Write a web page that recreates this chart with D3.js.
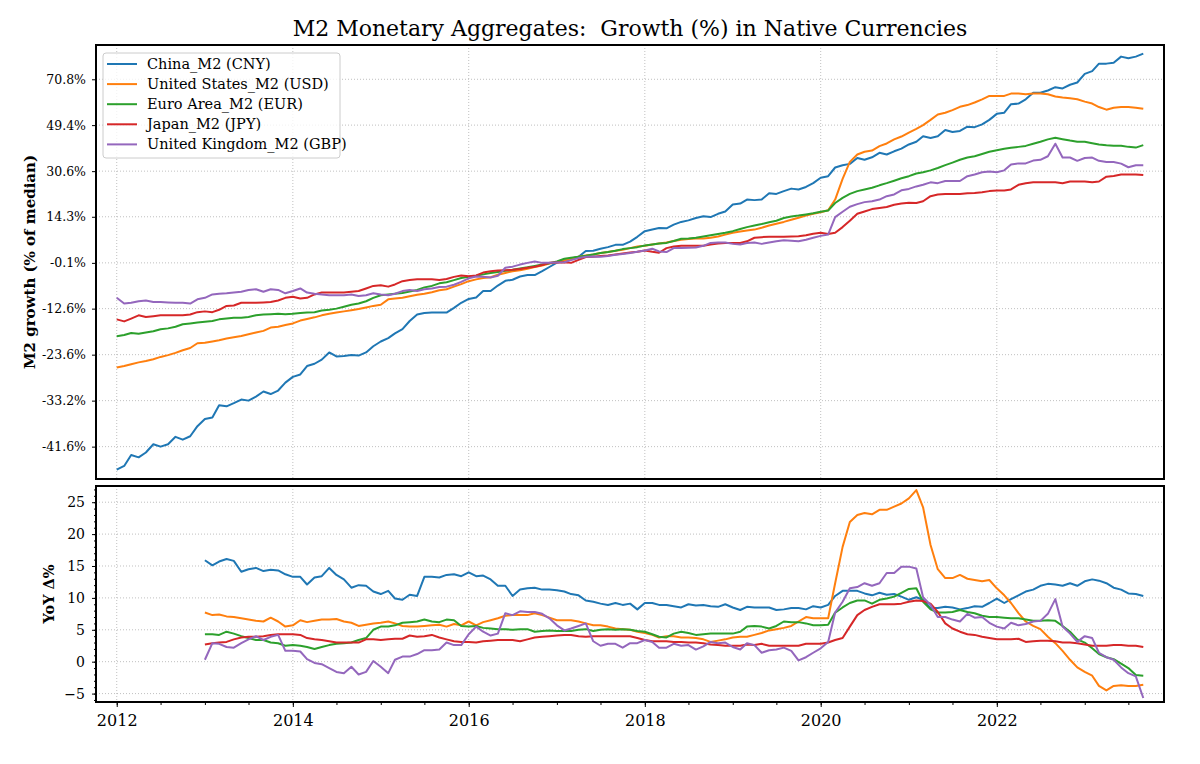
<!DOCTYPE html>
<html><head><meta charset="utf-8">
<script src="https://cdn.jsdelivr.net/npm/d3@7"></script>
<style>body{margin:0;background:#fff}svg{display:block}text{font-family:"DejaVu Serif",serif}</style>
</head><body><svg id="c" width="1200" height="764"></svg>
<script>
// ---------- DATA ----------
const seriesNames = ["China_M2 (CNY)","United States_M2 (USD)","Euro Area_M2 (EUR)","Japan_M2 (JPY)","United Kingdom_M2 (GBP)"];
const seriesColors = ["#1f77b4","#ff7f0e","#2ca02c","#d62728","#9467bd"];
// monthly, Jan 2012 .. Sep 2023 : M2 level, % of median
const chinaLevel = [-45.4,-44.8,-43.0,-43.4,-42.6,-41.2,-41.6,-41.2,-39.9,-40.4,-39.8,-38.0,
-36.7,-36.4,-34.1,-34.3,-33.7,-33.0,-33.2,-32.4,-31.4,-31.9,-31.2,-29.6,
-28.4,-27.9,-26.1,-25.6,-24.7,-23.1,-24.0,-23.9,-23.7,-23.8,-23.1,-21.7,
-20.6,-19.8,-18.7,-17.7,-15.7,-14.1,-13.7,-13.6,-13.6,-13.6,-12.4,-11.1,
-10.1,-9.7,-8.0,-8.0,-6.5,-5.2,-4.9,-4.0,-3.6,-3.6,-2.5,-1.3,
0.0,0.6,1.2,1.7,3.4,3.5,4.1,4.6,5.3,5.3,6.3,7.8,
9.6,10.1,10.6,10.5,11.7,12.6,13.1,13.9,14.5,14.2,15.3,16.1,
18.5,18.8,20.2,20.0,20.2,22.4,22.2,23.2,24.1,23.8,24.7,26.1,
28.1,28.7,32.0,32.9,33.4,35.7,35.0,36.0,37.8,37.1,38.4,39.5,
41.2,42.3,44.6,43.9,44.6,47.3,46.4,46.9,48.7,48.5,49.7,51.7,
54.4,54.9,58.8,59.1,61.1,64.2,64.2,65.3,66.9,66.3,68.1,69.2,
73.5,74.9,78.8,78.8,79.3,82.5,81.6,82.5,84.1];
const usLevel = [-26.4,-26.1,-25.7,-25.3,-25.0,-24.6,-24.1,-23.7,-23.2,-22.6,-22.1,-21.0,
-20.9,-20.6,-20.3,-19.9,-19.6,-19.3,-18.9,-18.5,-18.1,-17.3,-17.1,-16.7,
-16.3,-15.6,-15.2,-14.8,-14.3,-13.9,-13.6,-13.3,-13.0,-12.7,-12.3,-11.9,
-11.6,-10.2,-10.0,-9.8,-9.4,-9.0,-8.7,-8.3,-7.8,-7.5,-6.8,-6.1,
-5.3,-4.8,-4.4,-4.2,-3.5,-3.0,-2.5,-2.2,-1.8,-1.3,-0.9,-0.3,
0.1,0.6,1.1,1.7,2.1,2.4,2.8,3.1,3.5,3.8,4.3,4.8,
5.0,5.4,5.7,6.0,6.5,6.9,7.1,7.3,7.3,7.5,7.9,8.5,
9.1,9.5,9.8,10.1,10.7,11.4,12.0,12.6,13.3,14.0,14.7,15.3,
15.8,16.5,20.2,27.7,34.2,37.1,38.2,38.7,40.5,41.6,43.3,44.5,
46.2,47.8,49.4,51.7,54.1,54.9,56.1,57.6,58.4,59.6,61.1,62.7,
62.7,62.7,63.8,63.8,63.5,63.8,63.8,63.5,62.4,61.9,61.6,61.1,
60.0,59.1,57.5,56.3,57.2,57.5,57.5,57.2,56.7];
const euroLevel = [-19.4,-19.1,-18.6,-18.8,-18.5,-18.2,-17.7,-17.5,-17.1,-16.5,-16.3,-16.1,
-15.9,-15.7,-15.3,-15.1,-14.9,-14.9,-14.7,-14.3,-14.1,-14.0,-13.9,-14.0,
-13.9,-13.7,-13.6,-13.5,-13.1,-12.9,-12.6,-12.1,-11.6,-11.3,-10.7,-9.8,
-9.1,-8.9,-8.7,-8.5,-8.1,-7.7,-7.0,-6.6,-5.9,-5.6,-5.0,-4.4,
-4.1,-3.8,-3.4,-3.0,-2.7,-2.4,-2.1,-1.7,-1.4,-1.0,-0.6,-0.2,
0.3,1.1,1.4,1.7,2.0,2.4,2.8,3.1,3.5,4.0,4.3,4.6,
5.1,5.4,5.7,5.9,6.5,7.2,7.3,7.5,7.9,8.3,8.7,9.1,
9.6,10.3,10.9,11.4,11.9,12.5,13.0,13.9,14.4,14.7,15.1,15.5,
16.0,16.4,19.0,20.8,22.2,23.2,23.8,24.4,25.3,26.1,27.0,27.9,
28.7,29.7,30.2,30.9,31.8,32.9,33.9,35.0,35.9,36.4,37.3,38.2,
38.8,39.4,39.8,40.2,40.6,41.5,42.3,43.3,44.0,43.4,42.8,42.3,
42.3,41.7,41.2,40.9,40.7,40.7,40.2,39.9,40.9];
const japanLevel = [-15.3,-15.8,-15.1,-14.3,-14.7,-14.5,-14.3,-14.3,-14.3,-14.3,-14.1,-13.5,
-13.3,-13.5,-12.9,-11.9,-11.8,-11.1,-11.1,-11.1,-11.0,-10.9,-10.5,-9.8,
-9.5,-10.0,-9.8,-8.9,-8.4,-8.4,-8.4,-8.4,-8.2,-8.0,-7.3,-6.6,
-6.4,-6.8,-6.2,-5.3,-5.0,-4.8,-4.8,-4.8,-5.0,-4.7,-4.1,-3.7,
-3.9,-3.7,-2.9,-2.5,-2.3,-2.2,-2.1,-1.9,-1.5,-1.2,-0.7,-0.1,
0.0,0.1,-0.1,0.8,1.6,1.7,1.9,2.1,2.4,2.7,3.0,3.2,
3.6,3.2,2.9,4.3,4.8,5.0,5.0,5.0,5.0,5.4,5.7,5.9,
5.9,5.9,6.4,7.5,7.7,7.8,7.8,7.8,7.9,8.0,8.3,8.8,
9.1,8.7,9.1,10.9,13.0,15.3,16.1,16.9,17.3,17.6,18.4,18.8,
19.1,19.0,19.6,21.4,22.0,22.2,22.2,22.2,22.4,22.5,22.8,23.2,
23.4,23.4,23.8,25.5,26.1,26.4,26.4,26.4,26.4,26.1,26.7,26.7,
26.7,26.4,26.7,28.5,28.8,29.3,29.3,29.3,29.1];
const ukLevel = [-9.8,-11.3,-11.1,-10.7,-10.5,-10.9,-10.9,-11.0,-11.1,-11.1,-11.3,-10.2,
-9.8,-8.9,-8.7,-8.6,-8.4,-8.2,-7.7,-7.5,-8.2,-7.5,-7.7,-8.6,
-8.0,-7.3,-8.4,-8.7,-8.9,-9.1,-9.1,-9.1,-8.9,-9.3,-9.1,-8.6,
-8.9,-9.1,-8.7,-8.0,-7.7,-8.0,-7.5,-7.3,-6.9,-6.8,-6.3,-5.5,
-4.5,-4.0,-4.1,-4.3,-3.8,-1.5,-1.2,-0.6,-0.1,0.3,-0.1,-0.1,
0.0,0.1,0.7,1.3,1.7,1.8,1.7,1.9,2.3,2.5,2.8,3.2,
3.6,4.1,3.3,3.1,4.3,4.3,4.4,4.5,5.0,5.9,6.0,6.0,
5.6,5.4,5.9,6.0,5.6,6.0,6.4,6.7,6.6,6.4,6.9,7.5,
8.1,8.5,14.2,16.0,17.7,18.6,19.3,19.6,20.2,21.4,22.0,23.5,
24.0,24.9,25.5,26.4,26.1,26.9,26.9,26.9,28.7,29.3,30.2,30.5,
30.2,30.9,33.2,33.6,33.6,34.7,35.0,36.4,41.5,35.9,35.9,34.6,
35.7,35.9,34.6,34.1,34.1,33.5,32.1,32.9,32.9];
// monthly, Jan 2013 .. Sep 2023 : YoY change, %
const chinaYoY = [15.9,15.1,15.7,16.1,15.8,14.1,14.5,14.7,14.2,14.4,14.3,13.7,
13.3,13.3,12.1,13.2,13.4,14.7,13.6,12.9,11.6,12.0,11.9,11.0,
10.6,11.1,9.9,9.7,10.5,10.3,13.3,13.3,13.2,13.6,13.7,13.4,
14.0,13.4,13.5,12.9,11.9,11.9,10.3,11.3,11.5,11.6,11.3,11.3,
11.2,11.0,10.6,10.4,9.6,9.4,9.1,8.9,9.2,8.9,9.1,8.2,
9.2,9.2,8.9,8.9,8.7,8.5,9.0,8.8,8.9,8.7,8.6,9.0,
8.5,8.1,8.6,8.5,8.5,8.5,8.1,8.2,8.4,8.4,8.2,8.7,
8.5,8.9,10.3,11.1,11.1,11.1,10.7,10.4,10.8,10.5,10.6,10.2,
9.7,10.1,9.7,8.4,8.4,8.6,8.5,8.2,8.4,8.7,8.6,9.2,
9.9,9.2,9.8,10.4,11.0,11.3,11.9,12.2,12.1,11.9,12.3,11.9,
12.6,12.9,12.7,12.3,11.6,11.3,10.7,10.6,10.3];
const usYoY = [7.7,7.3,7.4,7.1,7.0,6.8,6.6,6.4,6.3,6.9,6.3,5.5,
5.7,6.5,6.2,6.4,6.6,6.6,6.7,6.3,6.1,5.6,5.8,6.0,
6.1,6.3,6.0,5.6,5.5,5.5,5.6,5.7,5.8,5.5,5.9,5.7,
6.3,5.7,6.2,6.5,6.8,7.2,7.3,7.3,7.3,7.6,7.3,6.9,
6.5,6.5,6.5,6.3,6.0,5.7,5.7,5.5,5.2,5.1,5.0,4.7,
4.5,4.2,3.8,4.0,4.0,3.8,3.8,3.7,3.5,3.1,3.3,3.5,
3.8,3.9,3.9,4.2,4.5,4.9,5.1,5.3,5.6,6.3,7.0,6.8,
6.8,6.8,12.3,18.0,21.9,23.0,23.3,23.1,23.8,23.8,24.3,24.8,
25.6,26.9,24.2,18.3,14.5,13.1,13.1,13.6,13.0,12.8,12.6,12.8,
11.5,10.4,9.2,7.6,6.3,5.6,5.1,3.9,2.9,1.7,0.3,-0.9,
-1.6,-2.2,-3.8,-4.5,-3.8,-3.7,-3.8,-3.8,-3.6];
const euroYoY = [4.3,4.3,4.2,4.7,4.4,4.0,3.7,3.4,3.4,3.0,2.9,2.5,
2.6,2.5,2.3,2.0,2.3,2.6,2.8,2.9,3.0,3.4,3.7,5.0,
5.5,5.5,5.7,6.1,6.2,6.3,6.6,6.3,6.2,6.6,6.5,5.6,
5.5,5.6,5.3,5.2,5.1,5.1,5.0,5.1,5.1,4.7,4.8,4.9,
4.8,4.8,4.8,5.0,5.1,4.8,5.0,5.1,5.0,5.1,5.0,4.8,
4.7,4.3,3.9,3.8,4.4,4.7,4.5,4.2,4.3,4.4,4.4,4.4,
4.4,4.7,5.5,5.6,5.5,5.2,5.6,6.3,6.2,6.2,6.0,5.7,
5.7,5.8,7.7,8.5,9.2,9.6,9.6,9.1,9.7,9.9,10.2,10.8,
11.4,11.5,9.4,8.2,7.7,7.7,7.8,8.1,7.8,7.6,7.2,7.0,
7.0,6.9,6.8,6.8,6.6,6.4,6.4,6.5,6.4,5.6,4.7,3.5,
3.0,2.1,1.2,0.7,0.4,-0.3,-1.0,-2.1,-2.2];
const japanYoY = [2.7,2.9,3.0,3.1,3.5,3.8,3.9,3.9,4.0,4.2,4.3,4.3,
4.3,4.2,3.7,3.5,3.4,3.2,3.0,3.0,3.0,3.0,3.5,3.5,
3.4,3.5,3.6,3.6,4.1,3.9,4.0,4.2,3.8,3.5,3.2,3.1,
3.1,3.0,3.2,3.3,3.4,3.4,3.4,3.2,3.5,3.8,3.9,4.0,
4.1,4.2,4.2,4.0,3.9,4.0,4.0,4.0,4.0,4.0,4.0,3.7,
3.4,3.2,3.2,3.2,3.1,3.1,3.0,3.0,2.9,2.7,2.6,2.5,
2.5,2.5,2.7,2.6,2.8,2.5,2.5,2.5,2.5,2.5,2.8,2.8,
2.8,3.0,3.4,3.7,5.5,7.3,8.1,8.6,9.0,9.0,9.0,9.1,
9.4,9.6,9.5,9.1,7.8,6.0,5.2,4.7,4.3,4.2,3.9,3.7,
3.5,3.5,3.5,3.6,3.1,3.2,3.3,3.3,3.2,3.0,3.0,2.9,
2.7,2.5,2.5,2.5,2.6,2.6,2.5,2.5,2.3];
const ukYoY = [0.3,2.9,2.8,2.3,2.2,2.9,3.5,4.0,3.4,3.9,4.2,1.7,
1.7,1.6,0.4,-0.2,-0.4,-1.0,-1.6,-1.8,-0.8,-2.0,-1.6,0.1,
-0.8,-1.8,0.3,0.8,0.8,1.2,1.8,1.8,1.9,3.0,2.6,2.6,
4.3,5.5,4.7,4.1,4.4,7.6,7.3,7.9,7.8,7.8,7.5,6.8,
5.7,4.9,5.2,5.6,6.0,3.2,2.5,2.8,2.8,2.2,2.9,2.9,
3.4,3.1,2.2,2.2,2.8,2.5,2.6,1.9,2.4,3.1,2.9,3.0,
2.3,1.9,2.9,2.6,1.4,1.8,1.9,2.2,1.7,0.2,0.7,1.4,
2.1,3.1,7.7,9.4,11.5,11.7,12.3,11.9,12.3,13.9,13.9,14.9,
14.9,14.6,10.1,8.9,7.0,7.0,6.6,6.3,7.5,6.9,7.0,6.1,
5.5,5.2,6.1,5.7,5.9,6.3,6.4,7.5,9.8,5.5,4.4,3.1,
4.0,3.7,1.4,0.7,0.3,-0.9,-1.8,-2.3,-5.7];
const levelTicks = [-41.6,-33.2,-23.6,-12.6,-0.1,14.3,30.6,49.4,70.8];
const yoyTicks = [-5,0,5,10,15,20,25];
const yearTicks = [2012,2014,2016,2018,2020,2022];

// ---------- LAYOUT ----------
const levels = [chinaLevel,usLevel,euroLevel,japanLevel,ukLevel];
const yoys = [chinaYoY,usYoY,euroYoY,japanYoY,ukYoY];
const months = d3.timeMonth.range(new Date(2012,0,1), new Date(2023,9,1));
const yoyMonths = months.slice(12);

const L=96,R=1164,T1=45,B1=479,T2=486,B2=702;
const svg = d3.select("#c");
const x = d3.scaleTime().domain([new Date(2011,9,7), new Date(2023,10,26)]).range([L,R]);
const y1 = d3.scaleLog().domain([0.5313,1.8880]).range([B1,T1]);
const y2 = d3.scaleLinear().domain([-6.32,27.54]).range([B2,T2]);
const yearDates = yearTicks.map(y=>new Date(y,0,1));
const gridStyle = g => g.attr("stroke","#b0b0b0").attr("stroke-width",0.8).attr("stroke-dasharray","1,2");

const defs = svg.append("defs");
defs.append("clipPath").attr("id","c1").append("rect").attr("x",L).attr("y",T1).attr("width",R-L).attr("height",B1-T1);
defs.append("clipPath").attr("id","c2").append("rect").attr("x",L).attr("y",T2).attr("width",R-L).attr("height",B2-T2);

// grids
const g1 = svg.append("g").call(gridStyle);
yearDates.forEach(d=>{
  g1.append("line").attr("x1",x(d)).attr("x2",x(d)).attr("y1",T1).attr("y2",B1);
  g1.append("line").attr("x1",x(d)).attr("x2",x(d)).attr("y1",T2).attr("y2",B2);
});
levelTicks.forEach(v=>g1.append("line").attr("x1",L).attr("x2",R).attr("y1",y1(1+v/100)).attr("y2",y1(1+v/100)));
yoyTicks.forEach(v=>g1.append("line").attr("x1",L).attr("x2",R).attr("y1",y2(v)).attr("y2",y2(v)));

// lines
const line1 = d3.line().x((d,i)=>x(months[i])).y(d=>y1(1+d/100));
const line2 = d3.line().x((d,i)=>x(yoyMonths[i])).y(d=>y2(d));
const p1 = svg.append("g").attr("clip-path","url(#c1)");
const p2 = svg.append("g").attr("clip-path","url(#c2)");
levels.forEach((s,i)=>p1.append("path").attr("d",line1(s)).attr("fill","none").attr("stroke",seriesColors[i]).attr("stroke-width",2).attr("stroke-linejoin","round"));
yoys.forEach((s,i)=>p2.append("path").attr("d",line2(s)).attr("fill","none").attr("stroke",seriesColors[i]).attr("stroke-width",2).attr("stroke-linejoin","round"));

// axes
function styleAxis(g,size){
  g.select(".domain").remove();
  g.selectAll(".tick line").attr("stroke","#000").attr("stroke-width",1);
  g.selectAll(".tick text").attr("fill","#000").style("font-family","DejaVu Serif").style("font-size",size+"px");
}
svg.append("g").attr("transform",`translate(${L},0)`)
  .call(d3.axisLeft(y1).tickValues(levelTicks.map(v=>1+v/100)).tickFormat((d,i)=>levelTicks[i].toFixed(1)+"%").tickSize(4).tickPadding(6))
  .call(g=>styleAxis(g,12.5));
svg.append("g").attr("transform",`translate(${L},0)`)
  .call(d3.axisLeft(y2).tickValues(d3.range(-6,28,1)).tickFormat("").tickSize(2)).call(g=>styleAxis(g,12));
svg.append("g").attr("transform",`translate(${L},0)`)
  .call(d3.axisLeft(y2).tickValues(yoyTicks).tickSize(4).tickPadding(7))
  .call(g=>styleAxis(g,14));
svg.append("g").attr("transform",`translate(0,${B2})`)
  .call(d3.axisBottom(x).tickValues(d3.timeMonth.every(6).range(new Date(2012,0,1), new Date(2023,9,1))).tickFormat("").tickSize(3))
  .call(g=>styleAxis(g,12));
svg.append("g").attr("transform",`translate(0,${B2})`)
  .call(d3.axisBottom(x).tickValues(yearDates).tickFormat(d3.timeFormat("%Y")).tickSize(5).tickPadding(8))
  .call(g=>styleAxis(g,16));

// borders
svg.append("rect").attr("x",L).attr("y",T1).attr("width",R-L).attr("height",B1-T1).attr("fill","none").attr("stroke","#000").attr("stroke-width",2);
svg.append("rect").attr("x",L).attr("y",T2).attr("width",R-L).attr("height",B2-T2).attr("fill","none").attr("stroke","#000").attr("stroke-width",2);

// title & labels
svg.append("text").attr("x",(L+R)/2).attr("y",36).attr("text-anchor","middle").style("font-size","22px").style("white-space","pre")
  .text("M2 Monetary Aggregates:  Growth (%) in Native Currencies");
svg.append("text").attr("transform",`translate(35,${(T1+B1)/2}) rotate(-90)`).attr("text-anchor","middle")
  .style("font-size","15px").style("font-weight","bold").text("M2 growth (% of median)");
svg.append("text").attr("transform",`translate(54,${(T2+B2)/2}) rotate(-90)`).attr("text-anchor","middle")
  .style("font-size","14.5px").style("font-weight","bold").text("YoY Δ%");

// legend
const lg = svg.append("g");
lg.append("rect").attr("x",103).attr("y",53).attr("width",237).attr("height",105).attr("rx",3)
  .attr("fill","#fff").attr("fill-opacity",0.8).attr("stroke","#cccccc").attr("stroke-width",1);
seriesNames.forEach((n,i)=>{
  const yy = 64 + i*20.1;
  lg.append("line").attr("x1",107).attr("x2",137).attr("y1",yy).attr("y2",yy).attr("stroke",seriesColors[i]).attr("stroke-width",2);
  lg.append("text").attr("x",147).attr("y",yy).attr("dy","0.35em").style("font-size","14.5px").text(n);
});
</script></body></html>
